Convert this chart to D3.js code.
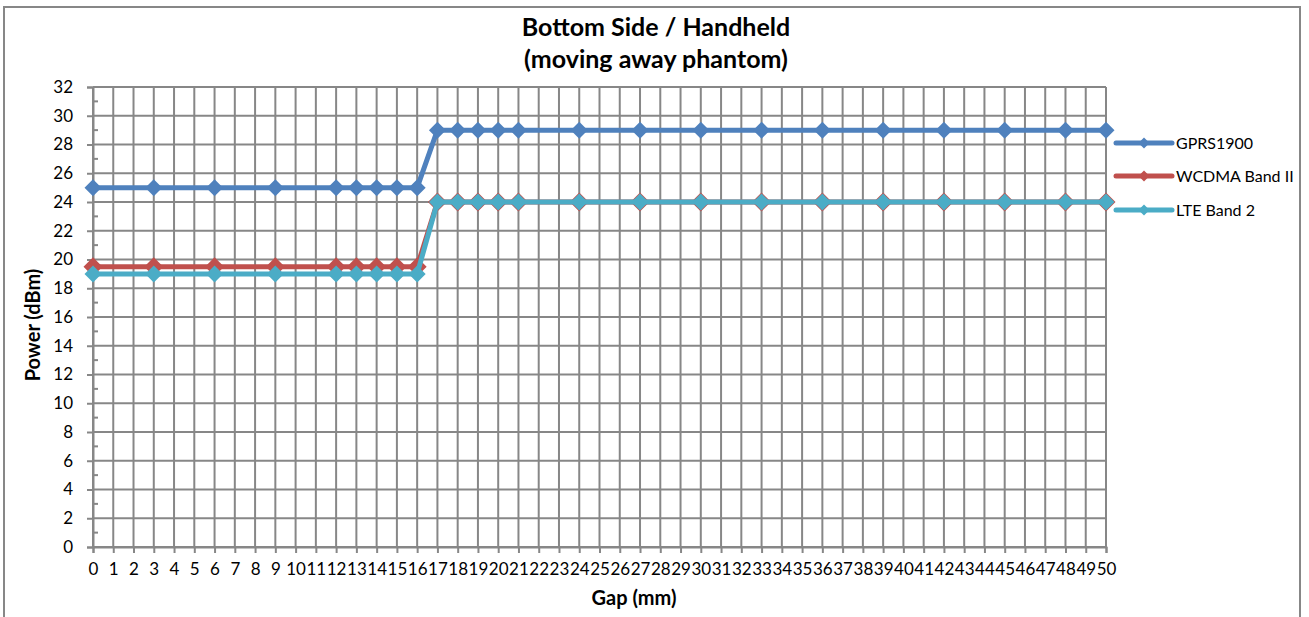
<!DOCTYPE html>
<html><head><meta charset="utf-8">
<script src="https://cdn.jsdelivr.net/npm/d3@7"></script>
<style>body{margin:0;background:#fff}svg{display:block}</style>
</head><body>
<svg id="c" width="1309" height="617"></svg>
<script>
const gaps = [0,3,6,9,12,13,14,15,16,17,18,19,20,21,24,27,30,33,36,39,42,45,48,50];
const gprs1900 = [25,25,25,25,25,25,25,25,25,29,29,29,29,29,29,29,29,29,29,29,29,29,29,29];
const wcdmaBand2 = [19.5,19.5,19.5,19.5,19.5,19.5,19.5,19.5,19.5,24,24,24,24,24,24,24,24,24,24,24,24,24,24,24];
const lteBand2 = [19,19,19,19,19,19,19,19,19,24,24,24,24,24,24,24,24,24,24,24,24,24,24,24];
const seriesNames = ["GPRS1900","WCDMA Band II","LTE Band 2"];
const seriesColors = ["#4F81BD","#C0504D","#4BACC6"];
const xTicks = d3.range(0,51,1);
const yTicks = d3.range(0,33,2);
const titleLines = ["Bottom Side / Handheld","(moving away phantom)"];

const series = [gprs1900,wcdmaBand2,lteBand2].map((v,i)=>({name:seriesNames[i],color:seriesColors[i],values:v}));

const svg = d3.select("#c");
const font = "Lato, 'Open Sans', sans-serif";
const grid = "#878787";

svg.append("rect").attr("x",4).attr("y",7).attr("width",1296).attr("height",620)
  .attr("fill","#fff").attr("stroke",grid).attr("stroke-width",2);

const x = d3.scaleLinear().domain([0,50]).range([93,1106]);
const y = d3.scaleLinear().domain([0,32]).range([547,87]);

// gridlines
svg.append("g").selectAll("line").data(xTicks).join("line")
  .attr("x1",d=>x(d)).attr("x2",d=>x(d)).attr("y1",y(32)).attr("y2",y(0))
  .attr("stroke",grid).attr("stroke-width",2);
svg.append("g").selectAll("line").data(yTicks).join("line")
  .attr("x1",x(0)).attr("x2",x(50)).attr("y1",d=>y(d)).attr("y2",d=>y(d))
  .attr("stroke",grid).attr("stroke-width",2);

// y axis
const yAxis = svg.append("g").attr("transform",`translate(${x(0)},0)`)
  .call(d3.axisLeft(y).tickValues(yTicks).tickSize(6).tickPadding(14).tickFormat(d3.format("d")));
yAxis.select(".domain").attr("stroke",grid).attr("stroke-width",2);
yAxis.selectAll(".tick line").attr("stroke",grid).attr("stroke-width",2);
yAxis.selectAll("text").attr("font-family",font).attr("font-size",17).attr("fill","#000");
// minor ticks
svg.append("g").selectAll("line").data(d3.range(1,32,2)).join("line")
  .attr("x1",x(0)).attr("x2",x(0)+5).attr("y1",d=>y(d)).attr("y2",d=>y(d))
  .attr("stroke",grid).attr("stroke-width",2);

// x axis
const xAxis = svg.append("g").attr("transform",`translate(0,${y(0)})`)
  .call(d3.axisBottom(x).tickValues(xTicks).tickSize(6).tickPadding(10).tickFormat(d3.format("d")));
xAxis.select(".domain").attr("stroke",grid).attr("stroke-width",2);
xAxis.selectAll(".tick line").attr("stroke",grid).attr("stroke-width",2);
xAxis.selectAll("text").attr("font-family",font).attr("font-size",17).attr("fill","#000");

// series
const diamond = r => `M0,${-r}L${r},0L0,${r}L${-r},0Z`;
const line = d3.line().x(d=>x(d[0])).y(d=>y(d[1]));
series.forEach((s,i)=>{
  const pts = gaps.map((g,j)=>[g,s.values[j]]);
  const g = svg.append("g");
  g.append("path").datum(pts).attr("d",line).attr("fill","none")
    .attr("stroke",s.color).attr("stroke-width",5).attr("stroke-linejoin","round");
  g.selectAll("path.m").data(pts).join("path").attr("class","m")
    .attr("transform",d=>`translate(${x(d[0])},${y(d[1])})`)
    .attr("d",diamond(i===1?9.5:8.5)).attr("fill",s.color);
});

// title
svg.append("g").selectAll("text").data(titleLines).join("text")
  .attr("x",656).attr("y",(d,i)=>36+i*32).attr("text-anchor","middle")
  .attr("font-family",font).attr("font-weight","bold").attr("font-size",25).attr("fill","#000").text(d=>d);

// axis titles
svg.append("text").attr("x",634).attr("y",605).attr("text-anchor","middle")
  .attr("font-family",font).attr("font-weight","bold").attr("font-size",20).text("Gap (mm)");
svg.append("text").attr("transform","translate(40,325) rotate(-90)").attr("text-anchor","middle")
  .attr("font-family",font).attr("font-weight","bold").attr("font-size",20).text("Power (dBm)");

// legend
const legY = [143,176,210];
const lg = svg.append("g").selectAll("g").data(series).join("g")
  .attr("transform",(d,i)=>`translate(1116,${legY[i]})`);
lg.append("line").attr("x1",0).attr("x2",56).attr("stroke",d=>d.color).attr("stroke-width",5).attr("stroke-linecap","round");
lg.append("path").attr("d",diamond(5.5)).attr("transform","translate(28,0)").attr("fill",d=>d.color);
lg.append("text").attr("x",60).attr("dy","0.35em").attr("font-family",font).attr("font-size",16).text(d=>d.name);
</script>
</body></html>
